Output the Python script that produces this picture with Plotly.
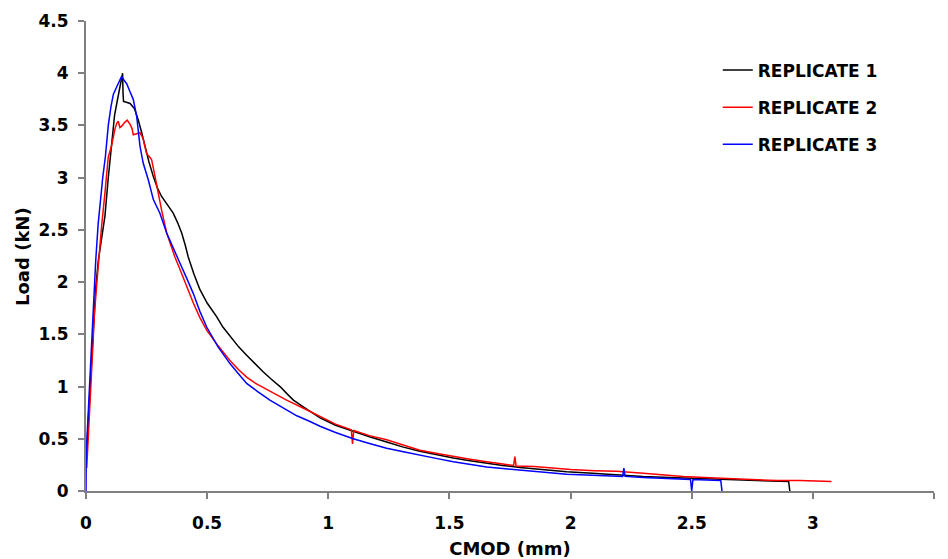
import plotly.graph_objects as go

# ---- data ----
series_names = ["REPLICATE 1", "REPLICATE 2", "REPLICATE 3"]

r1_cmod = [0, 0.005, 0.012, 0.02, 0.03, 0.04, 0.051, 0.065, 0.078, 0.092,
           0.106, 0.118, 0.127, 0.14, 0.151, 0.153, 0.155, 0.17, 0.182, 0.2,
           0.216, 0.23, 0.243, 0.26, 0.278, 0.295, 0.312, 0.335, 0.36, 0.378,
           0.395, 0.41, 0.422, 0.445, 0.47, 0.5, 0.539, 0.565, 0.594, 0.63,
           0.663, 0.7, 0.732, 0.765, 0.801, 0.83, 0.856, 0.9, 0.966, 1.03,
           1.103, 1.17, 1.241, 1.31, 1.378, 1.45, 1.516, 1.585, 1.654, 1.72,
           1.791, 1.88, 1.984, 2.09, 2.19, 2.3, 2.41, 2.52, 2.63, 2.74,
           2.84, 2.9, 2.905]
r1_load = [0.28, 0.5, 0.8, 1.17, 1.61, 1.94, 2.21, 2.42, 2.63, 3.0,
           3.36, 3.6, 3.71, 3.85, 4.0, 3.8, 3.73, 3.72, 3.71, 3.66,
           3.55, 3.43, 3.30, 3.15, 3.01, 2.9, 2.82, 2.74, 2.66, 2.57,
           2.47, 2.35, 2.24, 2.08, 1.93, 1.80, 1.67, 1.57, 1.48, 1.38,
           1.30, 1.21, 1.14, 1.07, 1.0, 0.93, 0.87, 0.80, 0.70, 0.63,
           0.57, 0.52, 0.47, 0.42, 0.38, 0.345, 0.315, 0.29, 0.265, 0.245,
           0.225, 0.205, 0.185, 0.17, 0.155, 0.14, 0.13, 0.12, 0.11, 0.10,
           0.095, 0.09, 0.0]

r2_cmod = [0.003, 0.008, 0.015, 0.025, 0.035, 0.045, 0.055, 0.065, 0.078, 0.092,
           0.105, 0.113, 0.12, 0.127, 0.133, 0.14, 0.15, 0.16, 0.17, 0.182,
           0.19, 0.195, 0.21, 0.223, 0.235, 0.25, 0.262, 0.271, 0.285, 0.298,
           0.312, 0.333, 0.35, 0.367, 0.388, 0.415, 0.443, 0.47, 0.498, 0.545,
           0.594, 0.63, 0.663, 0.7, 0.746, 0.79, 0.828, 0.9, 0.966, 1.03,
           1.095, 1.1, 1.105, 1.17, 1.241, 1.31, 1.378, 1.45, 1.516, 1.585,
           1.654, 1.72, 1.765, 1.77, 1.775, 1.85, 1.915, 2.0, 2.1, 2.19,
           2.3, 2.4, 2.465, 2.6, 2.74, 2.85, 2.947, 3.02, 3.077]
r2_load = [0.22, 0.45, 0.8, 1.3, 1.7, 2.0, 2.3, 2.55, 2.85, 3.2,
           3.3, 3.41, 3.47, 3.52, 3.54, 3.48, 3.5, 3.53, 3.55, 3.51,
           3.47, 3.41, 3.42, 3.43, 3.38, 3.23, 3.2, 3.17, 3.01, 2.85,
           2.69, 2.47, 2.35, 2.24, 2.12, 1.96, 1.80, 1.66, 1.54, 1.39,
           1.25, 1.16, 1.09, 1.03, 0.97, 0.92, 0.87, 0.79, 0.71, 0.64,
           0.585, 0.45, 0.58, 0.53, 0.49, 0.44, 0.39, 0.36, 0.33, 0.305,
           0.28, 0.255, 0.245, 0.33, 0.24, 0.235, 0.22, 0.205, 0.195, 0.19,
           0.17, 0.15, 0.14, 0.125, 0.11, 0.10, 0.10, 0.095, 0.09]

r3_cmod = [0, 0.001, 0.005, 0.012, 0.02, 0.03, 0.04, 0.05, 0.06, 0.069,
           0.08, 0.092, 0.103, 0.113, 0.127, 0.137, 0.147, 0.158, 0.168, 0.182,
           0.195, 0.209, 0.223, 0.236, 0.257, 0.278, 0.305, 0.333, 0.355, 0.374,
           0.388, 0.415, 0.443, 0.47, 0.498, 0.545, 0.594, 0.63, 0.663, 0.71,
           0.759, 0.81, 0.87, 0.92, 0.966, 1.03, 1.103, 1.17, 1.241, 1.31,
           1.378, 1.45, 1.516, 1.585, 1.654, 1.72, 1.791, 1.88, 1.984, 2.09,
           2.215, 2.22, 2.225, 2.3, 2.4, 2.495, 2.5, 2.505, 2.56, 2.62,
           2.625]
r3_load = [0.0, 0.3, 0.55, 0.9, 1.3, 1.8, 2.2, 2.55, 2.8, 3.0,
           3.2, 3.5, 3.68, 3.8, 3.87, 3.92, 3.97, 3.93, 3.90, 3.82,
           3.75, 3.59, 3.30, 3.14, 2.98, 2.79, 2.66, 2.47, 2.35, 2.24,
           2.18, 2.04, 1.89, 1.72, 1.57, 1.38, 1.22, 1.12, 1.03, 0.95,
           0.87, 0.80, 0.72, 0.67, 0.62, 0.56, 0.50, 0.455, 0.41, 0.375,
           0.34, 0.31, 0.28, 0.255, 0.23, 0.215, 0.20, 0.18, 0.16, 0.15,
           0.14, 0.22, 0.14, 0.13, 0.12, 0.11, 0.0, 0.11, 0.105, 0.10,
           0.0]

x_ticks = [0, 0.5, 1, 1.5, 2, 2.5, 3, 3.5]
y_ticks = [0, 0.5, 1, 1.5, 2, 2.5, 3, 3.5, 4, 4.5]

colors = ["#000000", "#FF0000", "#0000FF"]
FONT = "DejaVu Sans"

fig = go.Figure()
for name, xs, ys, c in zip(series_names,
                           [r1_cmod, r2_cmod, r3_cmod],
                           [r1_load, r2_load, r3_load], colors):
    fig.add_trace(go.Scatter(x=xs, y=ys, mode="lines", name=name,
                             legendgroup=name,
                             line=dict(color=c, width=1.5)))

axis_common = dict(
    showgrid=False, zeroline=False, showline=True, linecolor="#808080",
    linewidth=2, ticks="outside", ticklen=6, tickcolor="#808080", tickwidth=1.5,
    automargin=False,
    tickfont=dict(family=FONT, size=17, color="black", weight="bold"),
)

# the page body adds an 8px offset, so the figure is sized 8px smaller
fig.update_layout(
    width=940, height=551,
    margin=dict(l=78, r=14, t=13, b=68),
    paper_bgcolor="white", plot_bgcolor="white",
    font=dict(family=FONT, color="black"),
    xaxis=dict(range=[0, 3.5], tickvals=x_ticks, ticktext=[str(v) for v in x_ticks],
               ticklabelstandoff=10,
               title=dict(text="CMOD (mm)", standoff=10,
                          font=dict(family=FONT, size=18, color="black", weight="bold")),
               **axis_common),
    yaxis=dict(range=[0, 4.5], tickvals=y_ticks, ticktext=[str(v) for v in y_ticks],
               ticklabelstandoff=6,
               **axis_common),
    legend=dict(x=0.745, y=0.933, xanchor="left", yanchor="top",
                bgcolor="rgba(0,0,0,0)", tracegroupgap=12, itemwidth=30,
                font=dict(family=FONT, size=17, color="black", weight="bold")),
    showlegend=True,
)

fig.add_annotation(text="Load (kN)", xref="paper", yref="paper",
                   x=-0.0755, y=0.5, xanchor="center", yanchor="middle",
                   textangle=-90, showarrow=False,
                   font=dict(family=FONT, size=18, color="black", weight="bold"))

fig.write_html("out.html")
